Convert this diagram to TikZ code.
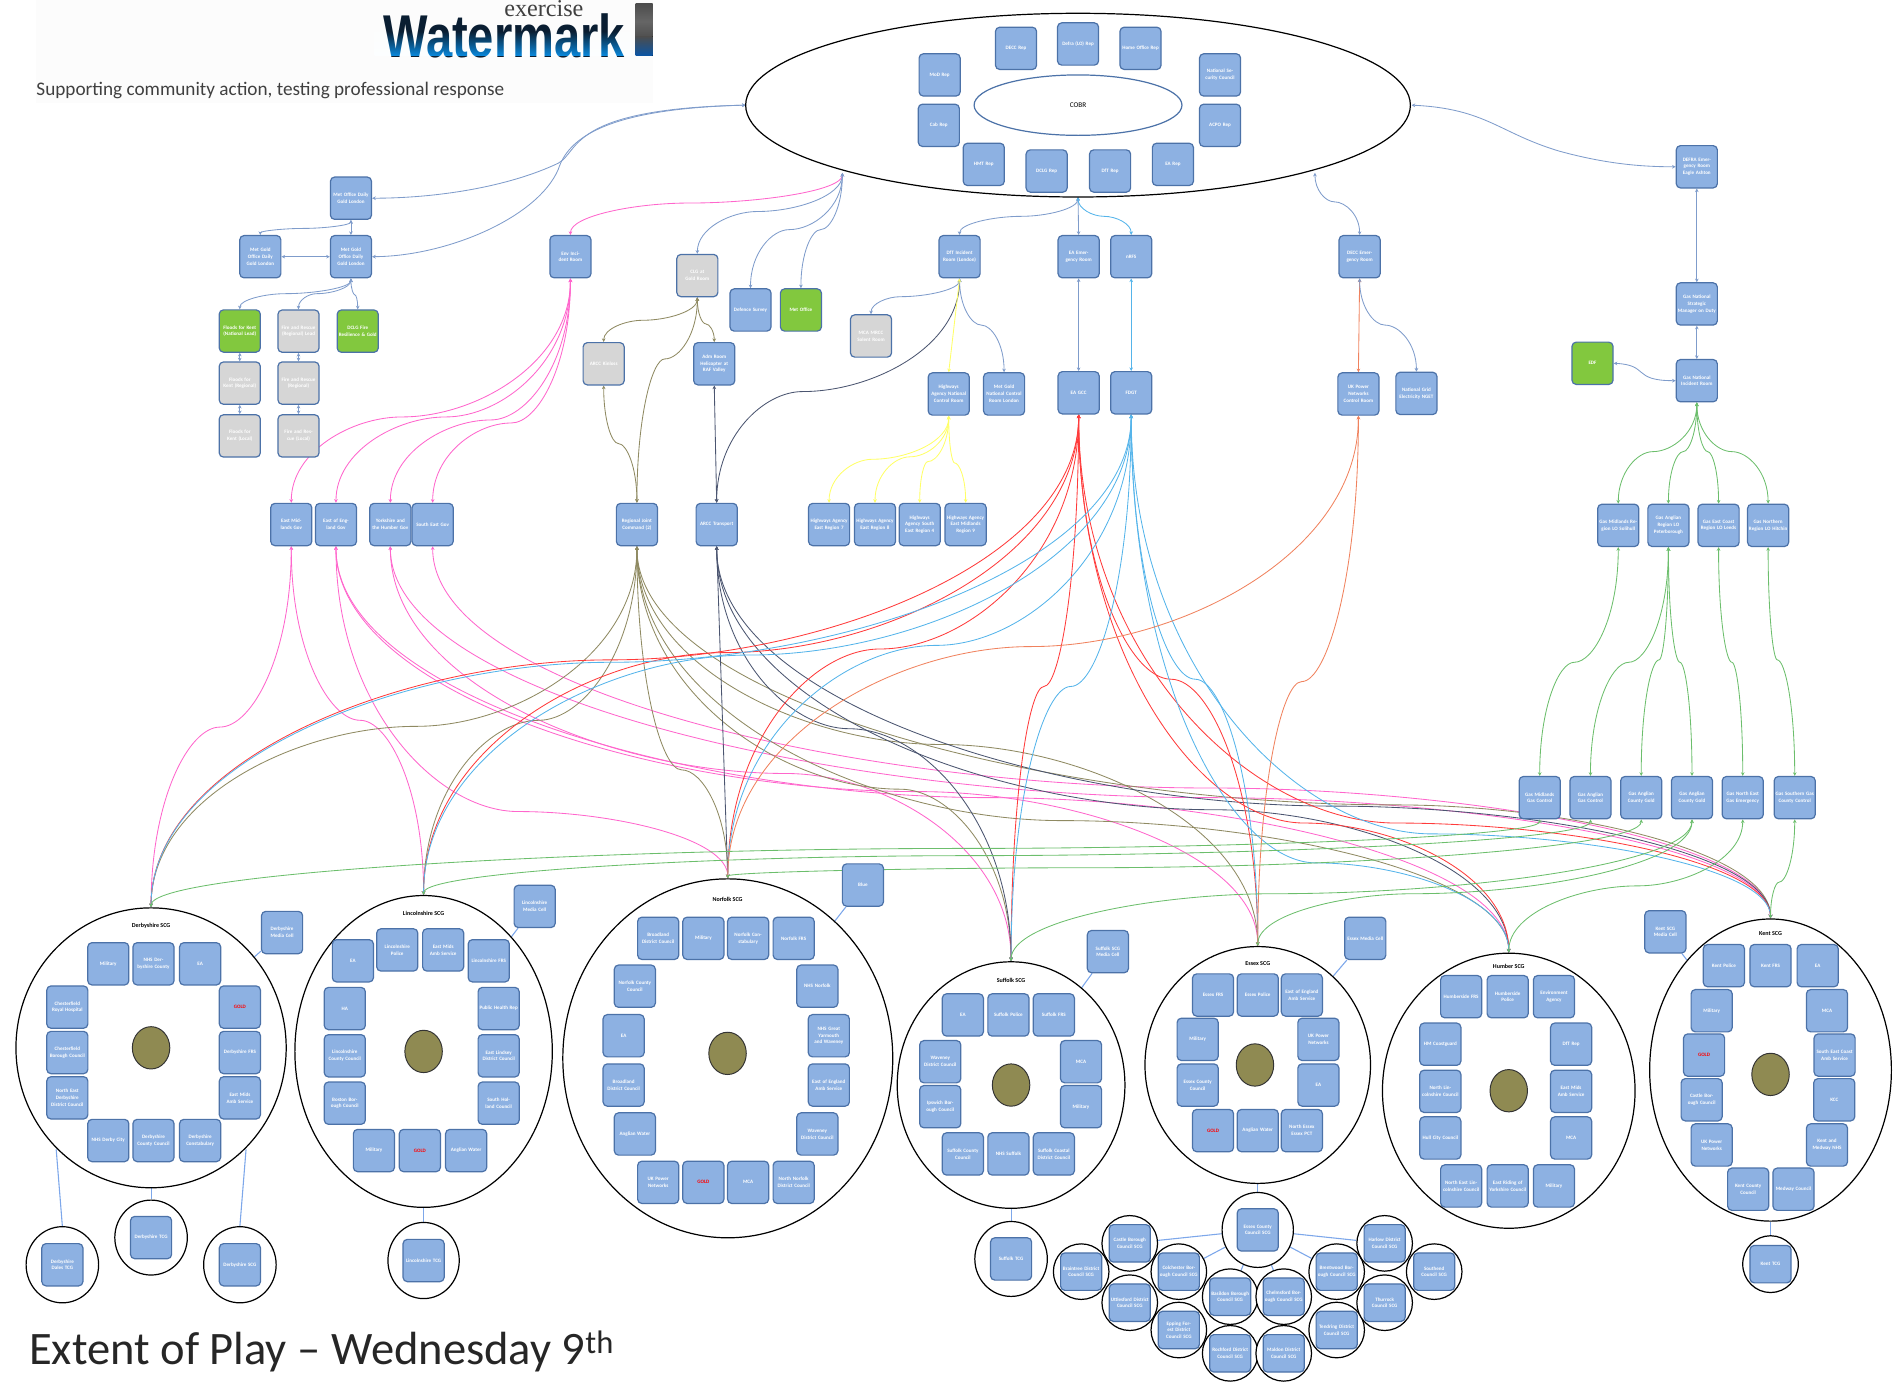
\documentclass[tikz,border=0pt]{standalone}
\usepackage{fontspec}
\setmainfont{Carlito}
\newfontfamily\logofont{Liberation Sans}
\newfontfamily\serifff{Liberation Serif}
\usetikzlibrary{shapes.geometric,arrows.meta,backgrounds,calc}
\definecolor{bxfill}{HTML}{8DB1E2}
\definecolor{bxline}{HTML}{4C72A8}
\definecolor{bxgray}{HTML}{D6D6D6}
\definecolor{bxgreen}{HTML}{82C83E}
\definecolor{cblue}{HTML}{7F9CCB}
\definecolor{cpink}{HTML}{FF66CC}
\definecolor{colive}{HTML}{8F8A62}
\definecolor{cdark}{HTML}{4B5570}
\definecolor{cyellow}{HTML}{FFFF66}
\definecolor{cred}{HTML}{FF3B3B}
\definecolor{csky}{HTML}{55B4EA}
\definecolor{corange}{HTML}{F0825E}
\definecolor{cgreen}{HTML}{6CBE6C}
\definecolor{clight}{HTML}{7DA7EA}
\definecolor{olivefill}{HTML}{8F8A52}
\tikzset{
  bx/.style={draw=bxline,line width=1pt,fill=bxfill,rounded corners=3.5pt,minimum width=34pt,minimum height=35pt,
    inner sep=0.5pt,text width=32pt,align=center,text=white,font=\bfseries\fontsize{4.2}{5.6}\selectfont},
  bxg/.style={bx,fill=bxgray},
  bxv/.style={bx,fill=bxgreen},
  xb/.style={bx,minimum height=31pt},
  scg/.style={shape=ellipse,draw=black,line width=1pt,fill=white,inner sep=0pt},
  olv/.style={shape=ellipse,draw=black!80,line width=0.8pt,fill=olivefill,inner sep=0pt,minimum width=31pt,minimum height=35pt},
  ttl/.style={font=\bfseries\fontsize{5}{6}\selectfont,text=black,inner sep=0pt},
  cnx/.style={line width=0.7pt,{Stealth[length=3pt,width=3pt]}-{Stealth[length=3pt,width=3pt]}},
  lnk/.style={line width=0.9pt,draw=clight},
}
\newcommand\bxx[4]{\node[bx] (#1) at (#2,#3) {#4};}
\newcommand\bxg[4]{\node[bxg] (#1) at (#2,#3) {#4};}
\newcommand\bxv[4]{\node[bxv] (#1) at (#2,#3) {#4};}
\newcommand\sg[5]{\node[scg,minimum width=#4pt,minimum height=#5pt] (#1) at (#2,#3) {};}
\newcommand\xc[4]{\node[scg,minimum width=46pt,minimum height=46pt] (#1) at (#2,#3) {}; \node[xb] (#1b) at (#2,#3) {#4};}
\newcommand\redt[1]{\textcolor{red}{#1}}
% connector made of two arcs that meet, level, at a mid point
\newcommand\cm[4]{\coordinate (mm) at (#4);
  \draw[cnx,#1] (#2) .. controls ($(#2)!0.6!(#2 |- mm)$) and ($(mm)!0.45!(#2 |- mm)$) .. (mm)
     .. controls ($(mm)!0.45!(#3 |- mm)$) and ($(#3)!0.6!(#3 |- mm)$) .. (#3);}
\begin{document}
\begin{tikzpicture}[x=1pt,y=-1pt]
\useasboundingbox (0,0) rectangle (1568,1142.7);
% header
\fill[black!1] (30,0) rectangle (540,85);
\node[anchor=center,inner sep=0,text=black!75] (exc) at (450,7.5) {\serifff\fontsize{20}{20}\selectfont exercise};
\node[anchor=west,inner sep=0,xscale=.78,text={rgb,255:red,10;green,30;blue,50}] (wm) at (317,30) {\logofont\bfseries\fontsize{50}{50}\selectfont Watermark};
\begin{scope}[blend mode=screen]
\shade[top color=black,bottom color={rgb,255:red,0;green,120;blue,210}] (310,26) rectangle (522,46);
\end{scope}
\fill[top color=black!70,bottom color=black!70,middle color=black!60] (526,3) rectangle (540,32);
\fill[top color=black!70,bottom color={rgb,255:red,10;green,85;blue,165}] (526,30) rectangle (540,46);
\node[anchor=west,inner sep=0,text=black!75] (sub) at (30,75) {\fontsize{15.9}{17}\selectfont Supporting community action, testing professional response};
\node[anchor=west,inner sep=0,text=black!85] (title) at (24,1118) {\fontsize{38.5}{40}\selectfont Extent of Play -- Wednesday 9\textsuperscript{th}};
% COBR
\sg{cobr}{892}{87}{550}{152}
\node[scg,draw=bxline,minimum width=172pt,minimum height=50pt,font=\fontsize{6}{7}\selectfont] (cobrin) at (892,87) {COBR};
\bxx{c1}{840.7}{40}{DECC Rep}
\bxx{c2}{892}{36.4}{Defra (LO) Rep}
\bxx{c3}{943.7}{40}{Home Office Rep}
\bxx{c4}{777.5}{62}{MoD Rep}
\bxx{c5}{1009.5}{62}{National Security Council}
\bxx{c6}{776.8}{103.7}{Cab Rep}
\bxx{c7}{1009.5}{103.7}{ACPO Rep}
\bxx{c8}{814}{136}{HMT Rep}
\bxx{c9}{866}{141.5}{DCLG Rep}
\bxx{c10}{918.5}{141.5}{DfT Rep}
\bxx{c11}{970.5}{136}{EA Rep}
\coordinate (cw) at (617,87);
\coordinate (cse) at (1088,143);
\coordinate (csw) at (697,143);
\coordinate (cs) at (892,163);
\coordinate (ce) at (1168,87);
% upper left
\bxx{A}{290.4}{164}{Met Office Daily Gold London}
\bxx{B}{290.4}{212.4}{Met Gold Office Daily Gold London}
\bxx{C}{215.4}{212.4}{Met Gold Office Daily Gold London}
\bxv{D}{198.4}{273.9}{Floods for Kent (National Lead)}
\bxg{E}{247}{274}{Fire and Rescue (Regional) Lead}
\bxv{F}{296}{274}{DCLG Fire Resilience \& Gold}
\bxg{G}{198.4}{317}{Floods for Kent (Regional)}
\bxg{H}{247}{317}{Fire and Rescue (Regional)}
\bxg{I}{198.4}{360.7}{Floods for Kent (Local)}
\bxg{J}{247}{360.7}{Fire and Rescue (Local)}
\bxx{K}{472}{212.4}{Env Incident Room}
\bxg{L}{577}{228}{CLG at Gold Room}
\bxg{M}{499.5}{301}{ARCC Kinloss}
\bxx{N}{591}{301}{Adm Room Helicopter at RAF Valley}
\bxx{P}{621}{256.5}{Defence Survey}
\bxv{Q}{662.7}{256.5}{Met Office}
\bxg{R}{720.7}{278}{MCA MRCC Solent Room}
\bxx{S}{794}{212.4}{DfT Incident Room (London)}
\bxx{E0}{892.5}{212.4}{EA Emergency Room}
\bxx{E9}{936}{212.4}{nRFS}
\bxx{DE}{1125}{212.4}{DECC Emergency Room}
\bxx{HA}{785}{326}{Highways Agency National Control Room}
\bxx{MG}{830.8}{326}{Met Gold National Control Room London}
\bxx{E1}{892.5}{325}{EA GCC}
\bxx{E2}{936}{325}{FDGT}
\bxx{UK}{1124}{326}{UK Power Networks Control Room}
\bxx{NG}{1172}{325.5}{National Grid Electricity NGET}
\bxx{DF}{1404}{138}{DEFRA Emergency Room Eagle Ashton}
\bxx{G1}{1404}{251.5}{Gas National Strategic Manager on Duty}
\bxx{G0}{1404}{315}{Gas National Incident Room}
\bxv{ED}{1317.7}{300.6}{EDF}
\bxx{GM1}{1339}{434.7}{Gas Midlands Region LO Solihull}
\bxx{GM2}{1380.5}{434.7}{Gas Anglian Region LO Peterborough}
\bxx{GM3}{1422}{434.7}{Gas East Coast Region LO Leeds}
\bxx{GM4}{1463}{434.7}{Gas Northern Region LO Hitchin}
\bxx{T1}{241}{434}{East Midlands Gov}
\bxx{T2}{278}{434}{East of England Gov}
\bxx{T3}{323}{434}{Yorkshire and the Humber Gov}
\bxx{T4}{358}{434}{South East Gov}
\bxx{R1}{527}{434}{Regional Joint Command (2)}
\bxx{R2}{593}{434}{ARCC Transport}
\bxx{Y1}{686}{434}{Highways Agency East Region 7}
\bxx{Y2}{724}{434}{Highways Agency East Region 8}
\bxx{Y3}{761}{434}{Highways Agency South East Region 4}
\bxx{Y4}{799}{434}{Highways Agency East Midlands Region 9}
\bxx{B1}{1274}{660}{Gas Midlands Gas Control}
\bxx{B2}{1316}{660}{Gas Anglian Gas Control}
\bxx{B3}{1358}{660}{Gas Anglian County Gold}
\bxx{B4}{1400}{660}{Gas Anglian County Gold}
\bxx{B5}{1442}{660}{Gas North East Gas Emergency}
\bxx{B6}{1485}{660}{Gas Southern Gas County Control}
% Derbyshire
\sg{der}{125}{867}{223.6}{231.6}
\node[olv] (derc) at (125,867) {};
\node[ttl] (dert) at (125,766) {Derbyshire SCG};
\bxx{d1}{89.6}{797.5}{Military}
\bxx{d2}{127}{797.5}{NHS Derbyshire County}
\bxx{d3}{165.6}{797.5}{EA}
\bxx{d4}{55.7}{833.3}{Chesterfield Royal Hospital}
\bxx{d5}{55.7}{870.9}{Chesterfield Borough Council}
\bxx{d6}{55.7}{908.4}{North East Derbyshire District Council}
\bxx{d7}{198.5}{833.3}{\redt{GOLD}}
\bxx{d8}{198.5}{870.9}{Derbyshire FRS}
\bxx{d9}{198.5}{908.4}{East Mids Amb Service}
\bxx{d10}{89.6}{943.7}{NHS Derby City}
\bxx{d11}{127}{943.7}{Derbyshire County Council}
\bxx{d12}{165.6}{943.7}{Derbyshire Constabulary}
\bxx{dm}{233.4}{771.6}{Derbyshire Media Cell}
\sg{ds1}{51.6}{1046.5}{60}{63}
\bxx{ds1b}{51.6}{1046.5}{Derbyshire Dales TCG}
\sg{ds2}{125}{1024}{60}{62}
\bxx{ds2b}{125}{1024}{Derbyshire TCG}
\sg{ds3}{198.5}{1046.5}{60}{63}
\bxx{ds3b}{198.5}{1046.5}{Derbyshire SCG}
\coordinate (dl) at (46.5,951);
\coordinate (dr) at (203.6,951);
% Lincolnshire
\sg{lin}{350.5}{870}{213}{258}
\node[olv] (linc) at (350.5,870) {};
\node[ttl] (lint) at (350.5,756) {Lincolnshire SCG};
\bxx{l1}{292}{795}{EA}
\bxx{l2}{328.7}{786}{Lincolnshire Police}
\bxx{l3}{366.7}{786}{East Mids Amb Service}
\bxx{l4}{404.4}{795}{Lincolnshire FRS}
\bxx{l5}{285.3}{834.5}{HA}
\bxx{l6}{285.3}{873.6}{Lincolnshire County Council}
\bxx{l7}{285.3}{912.8}{Boston Borough Council}
\bxx{l8}{412.6}{834.5}{Public Health Rep}
\bxx{l9}{412.6}{873.6}{East Lindsey District Council}
\bxx{l10}{412.6}{912.8}{South Holland Council}
\bxx{l11}{309.4}{952}{Military}
\bxx{l12}{347.4}{952}{\redt{GOLD}}
\bxx{l13}{385.7}{952}{Anglian Water}
\bxx{lm}{442.4}{750}{Lincolnshire Media Cell}
\sg{ls}{350.5}{1043}{59}{63}
\bxx{lsb}{350.5}{1043}{Lincolnshire TCG}
% Norfolk
\sg{nor}{602.2}{875.7}{273}{297}
\node[olv] (norc) at (602,871.6) {};
\node[ttl] (nort) at (602,744) {Norfolk SCG};
\bxx{n1}{544.6}{776.4}{Broadland District Council}
\bxx{n2}{582}{776.4}{Military}
\bxx{n3}{619}{776.4}{Norfolk Constabulary}
\bxx{n4}{656.7}{776.4}{Norfolk FRS}
\bxx{n5}{525.3}{816}{Norfolk County Council}
\bxx{n6}{676.3}{816}{NHS Norfolk}
\bxx{n7}{516}{857}{EA}
\bxx{n8}{685.8}{857}{NHS Great Yarmouth and Waveney}
\bxx{n9}{516}{897.8}{Broadland District Council}
\bxx{n10}{685.8}{897.8}{East of England Amb Service}
\bxx{n11}{525.3}{938.3}{Anglian Water}
\bxx{n12}{676.3}{938.3}{Waveney District Council}
\bxx{n13}{544.6}{978.3}{UK Power Networks}
\bxx{n14}{582}{978.3}{\redt{GOLD}}
\bxx{n15}{619}{978.3}{MCA}
\bxx{n16}{656.7}{978.3}{North Norfolk District Council}
\bxx{nm}{714}{732.3}{Blue}
% Suffolk
\sg{suf}{836.6}{897.8}{188.4}{204}
\node[olv] (sufc) at (836.6,897.8) {};
\node[ttl] (suft) at (836.6,811) {Suffolk SCG};
\bxx{s1}{796.7}{839.8}{EA}
\bxx{s2}{834.4}{839.8}{Suffolk Police}
\bxx{s3}{872}{839.8}{Suffolk FRS}
\bxx{s4}{778}{878.5}{Waveney District Council}
\bxx{s5}{778}{915.7}{Ipswich Borough Council}
\bxx{s6}{894.5}{878.5}{MCA}
\bxx{s7}{894.5}{915.7}{Military}
\bxx{s8}{796.7}{954.8}{Suffolk County Council}
\bxx{s9}{834.4}{954.8}{NHS Suffolk}
\bxx{s10}{872}{954.8}{Suffolk Coastal District Council}
\bxx{sm}{916.7}{787.4}{Suffolk SCG Media Cell}
\sg{ss}{836.6}{1041.7}{60}{62}
\bxx{ssb}{836.6}{1041.7}{Suffolk TCG}
% Essex
\sg{ess}{1040.7}{881.2}{186.6}{196}
\node[olv] (essc) at (1038.4,881.2) {};
\node[ttl] (esst) at (1040.7,797) {Essex SCG};
\bxx{e1}{1003.7}{823.3}{Essex FRS}
\bxx{e2}{1040.7}{823.3}{Essex Police}
\bxx{e3}{1077.2}{823.3}{East of England Amb Service}
\bxx{e4}{991}{860}{Military}
\bxx{e5}{991}{897.8}{Essex County Council}
\bxx{e6}{1090.9}{860}{UK Power Networks}
\bxx{e7}{1090.9}{897.8}{EA}
\bxx{e8}{1003.7}{935.5}{\redt{GOLD}}
\bxx{e9}{1040.7}{935.5}{Anglian Water}
\bxx{e10}{1077.2}{935.5}{North Essex Essex PCT}
\bxx{em}{1129.7}{776.4}{Essex Media Cell}
% Essex cluster
\sg{xm}{1040.7}{1017.7}{59}{62}
\bxx{xmb}{1040.7}{1017.7}{Essex County Council SCG}
\xc{x1}{934.8}{1028.8}{Castle Borough Council SCG}
\xc{x2}{894.6}{1052.2}{Braintree District Council SCG}
\xc{x3}{934.8}{1077.9}{Uttlesford District Council SCG}
\xc{x4}{975.4}{1052.2}{Colchester Borough Council SCG}
\xc{x5}{975.4}{1100.5}{Epping Forest District Council SCG}
\xc{x6}{1017.9}{1072.9}{Basildon Borough Council SCG}
\xc{x7}{1062.2}{1072.9}{Chelmsford Borough Council SCG}
\xc{x8}{1017.9}{1119.8}{Rochford District Council SCG}
\xc{x9}{1062.2}{1119.8}{Maldon District Council SCG}
\xc{x10}{1106}{1052.2}{Brentwood Borough Council SCG}
\xc{x11}{1106}{1100.5}{Tendring District Council SCG}
\xc{x12}{1145.7}{1028.8}{Harlow District Council SCG}
\xc{x13}{1145.7}{1077.9}{Thurrock Council SCG}
\xc{x14}{1186.7}{1052.2}{Southend Council SCG}
% Humber
\sg{hum}{1248.4}{902.5}{209}{227.6}
\node[olv] (humc) at (1248.4,902.5) {};
\node[ttl] (humt) at (1248.4,799.3) {Humber SCG};
\bxx{h1}{1209}{824.7}{Humberside FRS}
\bxx{h2}{1247.5}{824.7}{Humberside Police}
\bxx{h3}{1285.8}{824.7}{Environment Agency}
\bxx{h4}{1191.8}{864}{HM Coastguard}
\bxx{h5}{1191.8}{903}{North Lincolnshire Council}
\bxx{h6}{1191.8}{941.6}{Hull City Council}
\bxx{h7}{1300}{864}{DfT Rep}
\bxx{h8}{1300}{903}{East Mids Amb Service}
\bxx{h9}{1300}{941.6}{MCA}
\bxx{h10}{1209}{981.3}{North East Lincolnshire Council}
\bxx{h11}{1247.5}{981.3}{East Riding of Yorkshire Council}
\bxx{h12}{1285.8}{981.3}{Military}
% Kent
\sg{ken}{1465}{885.4}{200}{250}
\node[olv] (kenc) at (1465,889) {};
\node[ttl] (kent) at (1465,772.8) {Kent SCG};
\bxx{k1}{1426.4}{799}{Kent Police}
\bxx{k2}{1465}{799}{Kent FRS}
\bxx{k3}{1504}{799}{EA}
\bxx{k4}{1416.3}{836.3}{Military}
\bxx{k5}{1511.7}{836.3}{MCA}
\bxx{k6}{1410}{873}{\redt{GOLD}}
\bxx{k7}{1518}{873}{South East Coast Amb Service}
\bxx{k8}{1408}{910}{Castle Borough Council}
\bxx{k9}{1517.7}{910}{KCC}
\bxx{k10}{1416.3}{947.4}{UK Power Networks}
\bxx{k11}{1511.7}{947.4}{Kent and Medway NHS}
\bxx{k12}{1446.5}{984}{Kent County Council}
\bxx{k13}{1484}{984}{Medway Council}
\bxx{km}{1378}{771}{Kent SCG Media Cell}
\sg{ks}{1465}{1046}{46}{47}
\node[xb] (ksb) at (1465,1046) {Kent TCG};
% connectors
\begin{scope}[on background layer]
\draw[cnx,cblue] (cw) .. controls (470,90) and (480,125) .. (462,135) .. controls (420,155) and (360,164) .. (A.east);
\draw[cnx,cblue] (cw) .. controls (500,90) and (470,115) .. (462,140) .. controls (445,180) and (370,212) .. (B.east);
\draw[cnx,cblue] (A.south) -- (B.north);
\cm{cblue}{A.south}{C.north}{251,189}
\draw[cnx,cblue] (B.west) -- (C.east);
\cm{cblue}{B.south}{D.north}{236,243}
\cm{cblue}{B.south}{E.north}{262,243}
\cm{cblue}{B.south}{F.north}{293.7,244}
\draw[cnx,cblue] (D.south) -- (G.north);
\draw[cnx,cblue] (G.south) -- (I.north);
\draw[cnx,cblue] (E.south) -- (H.north);
\draw[cnx,cblue] (H.south) -- (J.north);
\cm{cpink}{csw}{K.north}{570,168}
\cm{cblue}{csw}{L.north}{627,175}
\cm{cblue}{csw}{P.north}{653,190}
\cm{cblue}{csw}{Q.north}{679,190}
\cm{cblue}{cs}{S.north}{845,179}
\draw[cnx,cblue] (cs) -- (E0.north);
\cm{csky}{cs}{E9.north}{913.5,179}
\cm{cblue}{cse}{DE.north}{1104,167}
\draw[cnx,cblue] (ce) .. controls (1230,90) and (1240,110) .. (1290,125) .. controls (1330,136) and (1360,138) .. (DF.west);
\cm{colive}{L.south}{M.north}{532,265}
\cm{colive}{L.south}{N.north}{584,268}
\cm{colive}{L.south}{R1.north}{550,297}
\cm{colive}{M.south}{R1.north}{511.6,367}
\draw[cnx,cdark] (N.south) -- (R2.north);
\cm{cdark}{S.south}{R2.north}{664,324}
\cm{cblue}{S.south}{R.north}{745,245.5}
\cm{cblue}{S.south}{MG.north}{812,269}
\draw[cnx,cyellow] (S.south) -- (HA.north);
\draw[cnx,cblue] (E0.south) -- (E1.north);
\draw[cnx,csky] (E9.south) -- (E2.north);
\draw[cnx,corange] (DE.south) -- (UK.north);
\cm{cblue}{DE.south}{NG.north}{1146,269}
\draw[cnx,cblue] (DF.south) -- (G1.north);
\draw[cnx,cblue] (G1.south) -- (G0.north);
\draw[cnx,cblue] (ED.east) .. controls (1365,302) and (1350,315) .. (G0.west);
\cm{cyellow}{HA.south}{Y1.north}{722,380}
\cm{cyellow}{HA.south}{Y2.north}{752.8,378}
\cm{cyellow}{HA.south}{Y3.north}{767.6,382}
\cm{cyellow}{HA.south}{Y4.north}{789.8,383}
\cm{cpink}{K.south}{T1.north}{332.5,345}
\cm{cpink}{K.south}{T2.north}{369,345}
\cm{cpink}{K.south}{T3.north}{406,347.5}
\cm{cpink}{K.south}{T4.north}{423,350}
\cm{cpink}{T1.south}{der.north}{182,601.6}
\cm{cpink}{T1.south}{lin.north}{298,596}
\cm{cpink}{T2.south}{nor.north}{428.8,671.5}
\cm{cpink}{T2.south}{ess.north}{760,655}
\cm{cpink}{T2.south}{hum.north}{820,660}
\cm{cpink}{T3.south}{suf.north}{650,640}
\cm{cpink}{T3.south}{ken.north}{1000,660}
\cm{cpink}{T4.south}{ken.north}{1000,652}
\cm{colive}{R1.south}{der.north}{344.4,601}
\cm{colive}{R1.south}{lin.north}{445.7,596}
\cm{colive}{R1.south}{nor.north}{563.9,637}
\cm{colive}{R1.south}{suf.north}{745,653}
\cm{colive}{R1.south}{ess.north}{778.5,616}
\cm{colive}{R1.south}{hum.north}{879,679}
\cm{colive}{R1.south}{ken.north}{1154.6,666}
\draw[cnx,cdark] (R2.south) -- (nor.north);
\cm{cdark}{R2.south}{suf.north}{703,603}
\cm{cdark}{R2.south}{hum.north}{1004,670}
\cm{cdark}{R2.south}{ken.north}{1104,667}
\cm{cred}{E1.south}{der.north}{505,546}
\cm{cred}{E1.south}{lin.north}{600,540}
\cm{cred}{E1.south}{nor.north}{728,537}
\cm{cred}{E1.south}{suf.north}{863.8,568}
\cm{cred}{E1.south}{ess.north}{969,562}
\cm{cred}{E1.south}{hum.north}{1079,681}
\cm{cred}{E1.south}{ken.north}{1155,681}
\cm{csky}{E2.south}{der.north}{505,548}
\cm{csky}{E2.south}{lin.north}{620,542}
\cm{csky}{E2.south}{nor.north}{775,534}
\cm{csky}{E2.south}{suf.north}{886,568}
\cm{csky}{E2.south}{ess.north}{989,562}
\cm{csky}{E2.south}{hum.north}{1089,714}
\cm{csky}{E2.south}{ken.north}{1185,690}
\cm{corange}{UK.south}{nor.north}{853,535}
\cm{corange}{UK.south}{ess.north}{1077,564}
\cm{cgreen}{G0.south}{GM1.north}{1367.6,373.7}
\cm{cgreen}{G0.south}{GM2.north}{1392.7,373.7}
\cm{cgreen}{G0.south}{GM3.north}{1413,373.7}
\cm{cgreen}{G0.south}{GM4.north}{1433,373.7}
\cm{cgreen}{GM1.south}{B1.north}{1302.6,548}
\cm{cgreen}{GM2.south}{B2.north}{1347.7,548}
\cm{cgreen}{GM2.south}{B3.north}{1372.8,546}
\cm{cgreen}{GM2.south}{B4.north}{1390,548}
\cm{cgreen}{GM3.south}{B5.north}{1433,548}
\cm{cgreen}{GM4.south}{B6.north}{1470.6,546}
\cm{cgreen}{B1.south}{der.north}{800,702}
\cm{cgreen}{B2.south}{lin.north}{800,708}
\cm{cgreen}{B3.south}{nor.north}{900,718}
\cm{cgreen}{B4.south}{suf.north}{1054,739.5}
\cm{cgreen}{B4.south}{ess.north}{1169.7,739.5}
\cm{cgreen}{B5.south}{hum.north}{1355,733}
\cm{cgreen}{B6.south}{ken.north}{1472,730}
\draw[lnk] (dm) -- (der);
\draw[lnk] (lm) -- (lin);
\draw[lnk] (nm) -- (nor);
\draw[lnk] (sm) -- (suf);
\draw[lnk] (em) -- (ess);
\draw[lnk] (km) -- (ken);
\draw[lnk] (dl) -- (ds1.north);
\draw[lnk] (der.south) -- (ds2.north);
\draw[lnk] (dr) -- (ds3.north);
\draw[lnk] (lin.south) -- (ls.north);
\draw[lnk] (suf.south) -- (ss.north);
\draw[lnk] (ess.south) -- (xm.north);
\draw[lnk] (ken.south) -- (ks.north);
\draw[lnk] (xm) -- (x1);
\draw[lnk] (xm) -- (x4);
\draw[lnk] (xm) -- (x6);
\draw[lnk] (xm) -- (x7);
\draw[lnk] (xm) -- (x10);
\draw[lnk] (xm) -- (x12);
\end{scope}
\end{tikzpicture}
\end{document}
